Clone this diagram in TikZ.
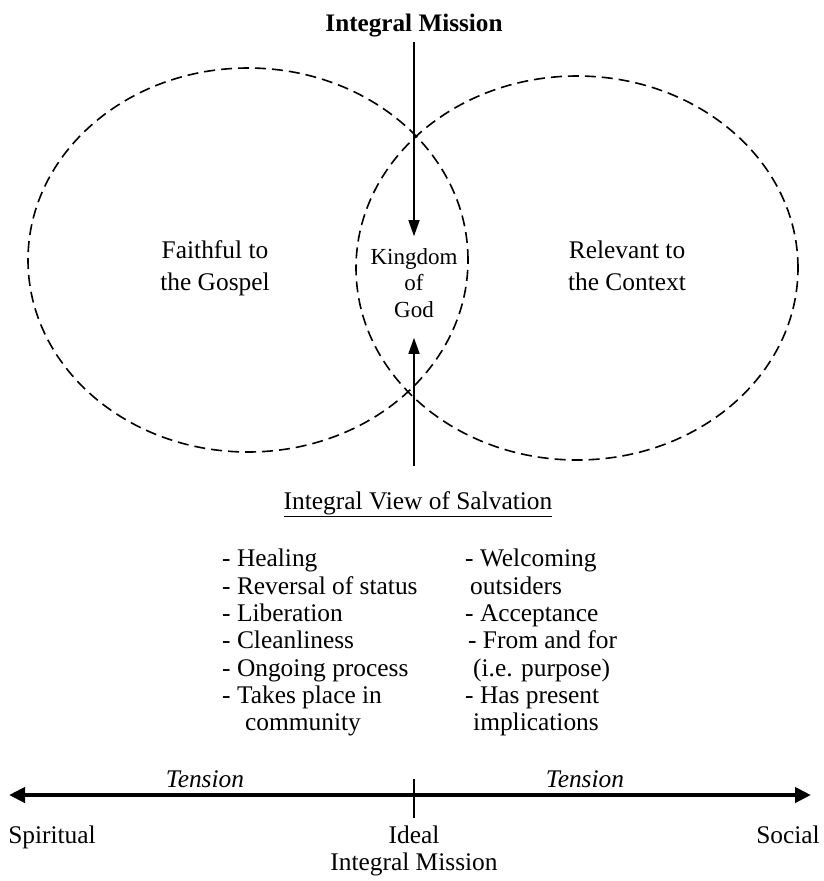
\documentclass[tikz,border=0pt]{standalone}
\usepackage{fontspec}
\setmainfont{Liberation Serif}
\usetikzlibrary{arrows.meta}
\begin{document}
\begin{tikzpicture}[x=1pt,y=-1pt,
  circ/.style={dash pattern=on 11pt off 6pt, line width=1.6pt},
  txt/.style={inner sep=0pt, align=center, anchor=base, font=\fontsize{25.4}{32}\selectfont},
  listtxt/.style={inner sep=0pt, align=left, anchor=north west, font=\fontsize{25.4}{27.3}\selectfont},
  arr/.style={line width=1.4pt, -{Triangle[length=16pt,width=11pt]}},
  axis/.style={line width=4pt, {Triangle[length=16pt,width=15pt]}-{Triangle[length=16pt,width=15pt]}}]
\useasboundingbox (0,0) rectangle (823,881);
% ellipses
\draw[circ] (248,260) ellipse [x radius=220pt, y radius=192pt];
\draw[circ] (577,268) ellipse [x radius=221pt, y radius=192pt];
% texts
\node[txt, font=\bfseries\fontsize{25.2}{28}\selectfont] (title) at (414,31) {Integral Mission};
\node[txt, anchor=north] (faith) at (215,240) {Faithful to\\the Gospel};
\node[txt, anchor=north] (relev) at (627,241) {Relevant to\\the Context};
\node[txt, anchor=center, font=\fontsize{23}{26.5}\selectfont] (kingdom) at (414,283) {Kingdom\\of\\God};
\coordinate (topstart) at (414,42);
\coordinate (botstart) at (414,466);
\draw[arr] (topstart) -- ([yshift=12pt]kingdom.north);
\draw[arr] (botstart) -- ([yshift=-20pt]kingdom.south);
\node[txt] (ivs) at (418,509) {\underline{Integral View of Salvation}};
\node[listtxt] (left) at (222,549) {- Healing\\- Reversal of status\\- Liberation\\- Cleanliness\\- Ongoing process\\- Takes place in\\\hspace*{23pt}community};
\node[listtxt] (right) at (465,549) {- Welcoming\\\hspace*{5pt}outsiders\\- Acceptance\\\hspace*{3pt}- From and for\\\hspace*{8pt}(i.e. purpose)\\- Has present\\\hspace*{8pt}implications};
% axis
\coordinate (axl) at (9,795);
\coordinate (axr) at (811,795);
\draw[axis] (axl) -- (axr);
\coordinate (tickt) at (414,779);
\coordinate (tickb) at (414,818);
\draw[line width=1.2pt] (tickt) -- (tickb);
\node[txt, font=\itshape\fontsize{25.4}{28}\selectfont] (tl) at (205,787) {Tension};
\node[txt, font=\itshape\fontsize{25.4}{28}\selectfont] (tr) at (585,787) {Tension};
\node[txt] (spir) at (52,843) {Spiritual};
\node[txt] (ideal) at (414,843) {Ideal};
\node[txt] (soc) at (788,843) {Social};
\node[txt] (im) at (414,870) {Integral Mission};
\end{tikzpicture}
\end{document}
